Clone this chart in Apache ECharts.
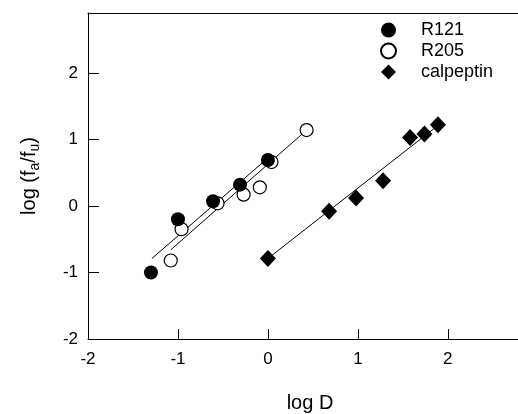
<!DOCTYPE html>
<html>
<head>
<meta charset="utf-8">
<script src="https://cdn.jsdelivr.net/npm/echarts@6/dist/echarts.min.js"></script>
<style>
  html, body { margin: 0; padding: 0; background: #fff; }
  #chart { width: 518px; height: 414px; }
</style>
</head>
<body>
<div id="chart"></div>
<script>
// 点数据 [log D, log(fa/fu)]
const r121 = [[-1.3, -1.0], [-1.0, -0.2], [-0.61, 0.07], [-0.31, 0.32], [0.0, 0.69]];
const r205 = [[-1.08, -0.82], [-0.96, -0.35], [-0.56, 0.04], [-0.27, 0.17], [-0.09, 0.28], [0.04, 0.66], [0.43, 1.14]];
const calpeptin = [[0.0, -0.79], [0.68, -0.08], [0.98, 0.12], [1.28, 0.38], [1.58, 1.03], [1.74, 1.08], [1.89, 1.22]];

// 拟合直线两端
const fitR121 = [[-1.29, -0.79], [0.0, 0.72]];
const fitR205 = [[-1.08, -0.66], [0.43, 1.14]];
const fitCalpeptin = [[0.0, -0.79], [1.9, 1.22]];

const xTicks = [-2, -1, 0, 1, 2];
const yTicks = [-2, -1, 0, 1, 2];

const font = "'Liberation Sans', Arial, sans-serif";

const chart = echarts.init(document.getElementById("chart"));

const fitLine = (data) => ({
  type: "line",
  data: data,
  symbol: "none",
  silent: true,
  z: 1,
  lineStyle: { color: "#000", width: 1 },
});

const option = {
  backgroundColor: "#fff",
  animation: false,
  textStyle: { fontFamily: font },
  grid: { left: 88, right: 0, top: 13, bottom: 75, outerBoundsMode: "none" },
  legend: {
    orient: "vertical",
    left: 375,
    top: 16,
    itemWidth: 15,
    itemHeight: 15,
    itemGap: 3,
    symbolKeepAspect: true,
    data: ["R121", "R205", "calpeptin"],
    textStyle: { fontFamily: font, fontSize: 18, color: "#000", padding: [0, 0, 0, 20] },
  },
  xAxis: [
    {
      type: "value",
      min: -2,
      max: 2.78,
      interval: 1,
      name: "log D",
      nameLocation: "middle",
      nameGap: 54,
      nameTextStyle: { fontSize: 20, color: "#000", padding: [0, 0, 0, 14] },
      axisLine: { onZero: false, lineStyle: { color: "#000", width: 1 } },
      axisTick: { inside: true, length: 10, lineStyle: { color: "#000" }, customValues: xTicks },
      axisLabel: { fontSize: 17, color: "#000", margin: 12, customValues: xTicks },
      splitLine: { show: false },
    },
    {
      type: "value",
      position: "top",
      min: -2,
      max: 2.78,
      axisLine: { show: true, onZero: false, lineStyle: { color: "#000", width: 1 } },
      axisTick: { show: false },
      axisLabel: { show: false },
      splitLine: { show: false },
    },
  ],
  yAxis: {
    type: "value",
    min: -2,
    max: 2.9,
    interval: 1,
    name: "{n|log (f}{s|a}{n|/f}{s|u}{n|)}",
    nameLocation: "middle",
    nameGap: 46,
    nameTextStyle: {
      color: "#000",
      rich: {
        n: { fontSize: 20, lineHeight: 26, fontFamily: font, color: "#000" },
        s: { fontSize: 14, lineHeight: 14, verticalAlign: "bottom", fontFamily: font, color: "#000" },
      },
    },
    axisLine: { show: true, onZero: false, lineStyle: { color: "#000", width: 1 } },
    axisTick: { show: true, inside: true, length: 11, lineStyle: { color: "#000" }, customValues: yTicks },
    axisLabel: { fontSize: 17, color: "#000", margin: 10, customValues: yTicks },
    splitLine: { show: false },
  },
  series: [
    fitLine(fitR121),
    fitLine(fitR205),
    fitLine(fitCalpeptin),
    {
      name: "R205",
      type: "scatter",
      data: r205,
      symbol: "circle",
      symbolSize: 13,
      z: 2,
      itemStyle: { color: "#fff", borderColor: "#000", borderWidth: 1.2, opacity: 1 },
    },
    {
      name: "R121",
      type: "scatter",
      data: r121,
      symbol: "circle",
      symbolSize: 14,
      z: 3,
      itemStyle: { color: "#000", opacity: 1 },
    },
    {
      name: "calpeptin",
      type: "scatter",
      data: calpeptin,
      symbol: "diamond",
      symbolSize: [16, 17],
      z: 3,
      itemStyle: { color: "#000", opacity: 1 },
    },
  ],
};

chart.setOption(option);
</script>
</body>
</html>
